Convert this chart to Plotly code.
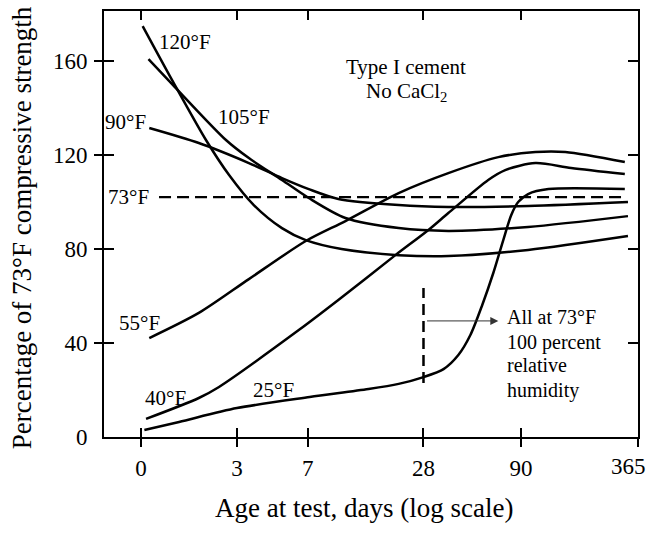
import numpy as np
import plotly.graph_objects as go

# ---------------- data ----------------
tick_days = [0.95, 3, 7, 28, 90, 365]
tick_text = ["0", "3", "7", "28", "90", ""]   # "365" drawn as a label below (it sits at the corner)
last_tick_label = "365"
y_ticks = [0, 40, 80, 120, 160]

days_120 = [0.97, 1.38, 2.07, 2.73, 3.67, 5.14, 6.84, 10.5, 20.8, 37.7, 98, 324]
val_120 = [174.9, 151.9, 126.4, 111.5, 98.7, 88.9, 83.8, 80.0, 77.4, 77.0, 79.6, 85.5]

days_105 = [1.04, 1.38, 2.63, 3.46, 5.14, 7.09, 11, 20.8, 37.7, 98, 324]
val_105 = [160.8, 150.2, 126.4, 118.7, 109.4, 101.7, 93.2, 88.9, 87.7, 89.4, 94.0]

days_90 = [1.05, 1.9, 3.46, 5.14, 7.09, 10.1, 20.8, 37.7, 98, 324]
val_90 = [131.5, 125.1, 116.6, 110.2, 105.5, 101.3, 98.7, 97.9, 98.3, 100.0]

days_73 = [1.18, 320]
val_73 = [102.1, 102.1]

days_55 = [1.05, 1.9, 3.46, 6.84, 11, 20.8, 37.7, 68.6, 107, 153, 312]
val_55 = [42.1, 52.8, 67.2, 83.4, 91.9, 103.8, 112.3, 119.1, 121.3, 121.3, 117.0]

days_40 = [1.01, 1.9, 2.42, 6.29, 10.1, 20, 29.7, 37.7, 60.8, 74.5, 107, 164, 312]
val_40 = [7.7, 16.6, 21.3, 45.5, 58.3, 77.4, 88.1, 95.3, 109.4, 113.6, 116.6, 114.5, 111.9]

days_25 = [0.99, 1.5, 3, 7.17, 14.5, 20.8, 28, 35.6, 42.5, 49.1, 56.6, 64.6, 72.8, 80.1, 87, 98, 125, 312]
val_25 = [3.0, 6.4, 12.3, 17.0, 20.4, 22.6, 25.5, 28.9, 34.9, 43.4, 56.2, 69.8, 83.8, 94.5, 100.0, 103.4, 105.5, 105.5]

switch_days = [28, 28]
switch_vals = [23, 63.4]

arrow_from_day, arrow_to_day, arrow_val = 28.7, 68.6, 49.4

# ---------------- figure ----------------
FONT = "Liberation Serif, Times New Roman, serif"
fig = go.Figure()

solid = dict(color="black", width=2.5, shape="spline", smoothing=0.8)
for d, v in [(days_120, val_120), (days_105, val_105), (days_90, val_90),
             (days_55, val_55), (days_40, val_40), (days_25, val_25)]:
    fig.add_trace(go.Scatter(x=d, y=v, mode="lines", line=solid, hoverinfo="skip"))

fig.add_trace(go.Scatter(x=days_73, y=val_73, mode="lines",
                         line=dict(color="black", width=2.2, dash="12px,6px"), hoverinfo="skip"))
fig.add_trace(go.Scatter(x=switch_days, y=switch_vals, mode="lines",
                         line=dict(color="black", width=2.5, dash="11px,6px"), hoverinfo="skip"))

# invisible trace for overlay axes (outside tick halves)
fig.add_trace(go.Scatter(x=[3], y=[40], xaxis="x2", yaxis="y2", mode="markers",
                         marker=dict(opacity=0), hoverinfo="skip"))

xr = [np.log10(0.95) - 0.192, np.log10(365) + 0.0004]
yr = [0, 181.3]

fig.update_layout(
    width=647, height=533,
    margin=dict(l=104, r=7, t=11, b=96),
    paper_bgcolor="white", plot_bgcolor="white",
    showlegend=False,
    font=dict(family=FONT, color="black"),
    xaxis=dict(type="log", range=xr, tickvals=tick_days, ticktext=tick_text,
               ticks="inside", ticklen=9, tickwidth=1.5, tickcolor="black",
               showline=True, linecolor="black", linewidth=2, mirror="ticks",
               showgrid=False, zeroline=False, tickfont=dict(size=23, family=FONT),
               ticklabelstandoff=9),
    xaxis2=dict(type="log", range=xr, tickvals=tick_days, overlaying="x", anchor="y2",
                side="bottom", ticks="outside", ticklen=9, tickwidth=1.5, tickcolor="black",
                showticklabels=False, showline=False, showgrid=False, zeroline=False),
    yaxis=dict(range=yr, tickvals=y_ticks, ticks="inside", ticklen=10, tickwidth=1.5,
               tickcolor="black", showline=True, linecolor="black", linewidth=2,
               mirror="ticks", showgrid=False, zeroline=False,
               tickfont=dict(size=23, family=FONT), ticklabelstandoff=10),
    yaxis2=dict(range=yr, tickvals=y_ticks[1:], overlaying="y", anchor="x2", side="left",
                ticks="outside", ticklen=9, tickwidth=1.5, tickcolor="black",
                showticklabels=False, showline=False, showgrid=False, zeroline=False),
)

def lab(text, day, val, xanchor="left", size=21):
    fig.add_annotation(text=text, x=np.log10(day), y=val, xref="x", yref="y",
                       xanchor=xanchor, yanchor="middle", showarrow=False,
                       font=dict(size=size, family=FONT, color="black"))

lab("120°F", 1.15, 168)
lab("105°F", 2.33, 136)
lab("90°F", 1.03, 134, "right")
lab("73°F", 1.07, 102, "right")
lab("55°F", 1.22, 48.5, "right")
lab("40°F", 0.97, 16.6)
lab("25°F", 3.55, 20)
lab("Type I cement", 22.7, 157.4, "center")
lab("No CaCl<sub>2</sub>", 22.9, 148.5 - 1.5, "center")
lab("All at 73°F", 74.5, 51.1, size=20)
lab("100 percent", 74.5, 40.4, size=20)
lab("relative", 74.5, 30.6, size=20)
lab("humidity", 74.5, 20.0, size=20)

fig.add_annotation(x=np.log10(arrow_to_day), y=arrow_val, ax=np.log10(arrow_from_day), ay=arrow_val,
                   xref="x", yref="y", axref="x", ayref="y", text="", showarrow=True,
                   arrowhead=2, arrowsize=1.6, arrowwidth=1, arrowcolor="#333")

# last x tick label (shifted inside the window like the reference)
fig.add_annotation(text=last_tick_label, xref="paper", yref="paper",
                   x=(630 - 104) / 536, y=(437 - 467) / 426,
                   xanchor="center", yanchor="middle", showarrow=False,
                   font=dict(size=23, family=FONT, color="black"))

# axis titles
fig.add_annotation(text="Percentage of 73°F compressive strength", xref="paper", yref="paper",
                   x=(22 - 104) / 536, y=(437 - 228) / 426, textangle=-90,
                   xanchor="center", yanchor="middle", showarrow=False,
                   font=dict(size=27, family=FONT, color="black"))
fig.add_annotation(text="Age at test, days (log scale)", xref="paper", yref="paper",
                   x=(365 - 104) / 536, y=(437 - 508) / 426,
                   xanchor="center", yanchor="middle", showarrow=False,
                   font=dict(size=27, family=FONT, color="black"))

fig.write_html("out.html")
